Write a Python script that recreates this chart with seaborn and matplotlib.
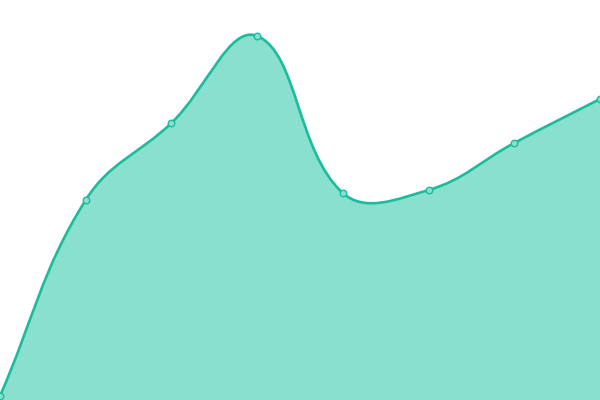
import numpy as np
import pandas as pd
import seaborn as sns
import matplotlib.pyplot as plt
from matplotlib.path import Path
from matplotlib.patches import PathPatch

x_idx = [0, 1, 2, 3, 4, 5, 6, 7]
values = [4, 200, 277, 364, 207, 210, 257, 301]

LINE = "#1abc9c"
FILL = "#8ae0cf"
W, H = 600, 400
TENSION = 0.4

df = pd.DataFrame({"x": x_idx, "y": values})


def spline_controls(xs, ys, sx, sy, t):
    """Chart.js style control points, distances taken in pixel space."""
    n = len(xs)
    ctrl = []
    for i in range(n):
        p0 = (xs[max(i - 1, 0)], ys[max(i - 1, 0)])
        p1 = (xs[i], ys[i])
        p2 = (xs[min(i + 1, n - 1)], ys[min(i + 1, n - 1)])
        d01 = np.hypot((p1[0] - p0[0]) * sx, (p1[1] - p0[1]) * sy)
        d12 = np.hypot((p2[0] - p1[0]) * sx, (p2[1] - p1[1]) * sy)
        tot = d01 + d12
        fa = t * d01 / tot if tot else 0
        fb = t * d12 / tot if tot else 0
        dx, dy = p2[0] - p0[0], p2[1] - p0[1]
        ctrl.append(((p1[0] - fa * dx, p1[1] - fa * dy),
                     (p1[0] + fb * dx, p1[1] + fb * dy)))
    return ctrl


fig = plt.figure(figsize=(6, 4), dpi=100)
ax = fig.add_axes([0, 0, 1, 1])
sns.set_style("white")

xs = df["x"].tolist()
ys = df["y"].tolist()
ctrl = spline_controls(xs, ys, W / (len(xs) - 1), 1.0, TENSION)

verts = [(xs[0], ys[0])]
codes = [Path.MOVETO]
for i in range(len(xs) - 1):
    verts += [ctrl[i][1], ctrl[i + 1][0], (xs[i + 1], ys[i + 1])]
    codes += [Path.CURVE4] * 3

area_verts = verts + [(xs[-1], 0), (xs[0], 0), (xs[0], ys[0])]
area_codes = codes + [Path.LINETO, Path.LINETO, Path.CLOSEPOLY]
ax.add_patch(PathPatch(Path(area_verts, area_codes), facecolor=FILL,
                       edgecolor="none", zorder=1))
ax.add_patch(PathPatch(Path(verts, codes), facecolor="none",
                       edgecolor=LINE, lw=1.9, zorder=2, capstyle="round"))

sns.scatterplot(data=df, x="x", y="y", ax=ax, s=22, color="#8ae0cf",
                edgecolor=LINE, linewidth=1.0, zorder=3, clip_on=False)

ax.set_xlim(0, len(xs) - 1)
ax.set_ylim(0, H)
ax.set_axis_off()

fig.savefig("out.png", dpi=100)
plt.close()
